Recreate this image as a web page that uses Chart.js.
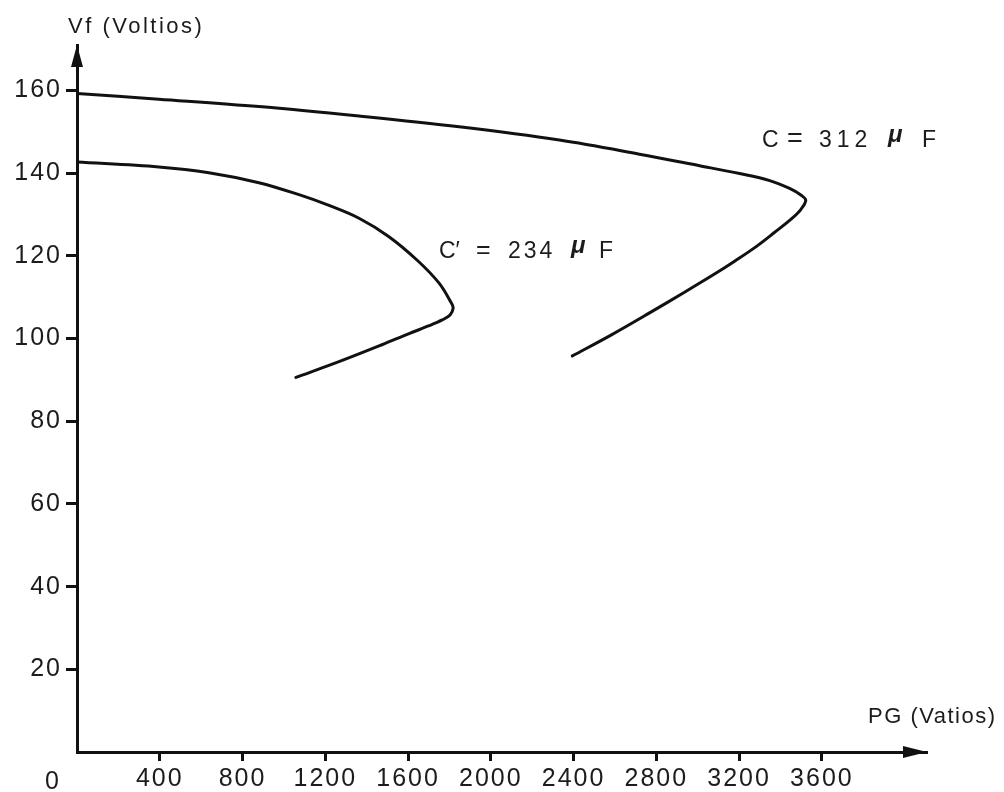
<!DOCTYPE html>
<html>
<head>
<meta charset="utf-8">
<title>Vf vs PG</title>
<script src="https://cdn.jsdelivr.net/npm/chart.js@4.4.1/dist/chart.umd.min.js"></script>
<style>
  html, body { margin: 0; padding: 0; background: #ffffff; }
  canvas { display: block; }
</style>
</head>
<body>
<canvas id="chart" width="1004" height="792"></canvas>
<script>
// Curve C = 312 µF: generated power (W) and field voltage (V)
const pgC312 = [0, 395, 879, 1363, 1847, 2331, 2718, 3009, 3202, 3348, 3444, 3502, 3522, 3498, 3454, 3372, 3284, 3178, 3091, 2936, 2767, 2583, 2394];
const vfC312 = [159.3, 157.9, 156.1, 153.8, 151.2, 148.0, 144.6, 141.8, 139.9, 138.2, 136.3, 134.6, 133.4, 131.2, 129.0, 125.7, 122.3, 118.7, 115.9, 111.2, 106.2, 100.9, 95.8];

// Curve C' = 234 µF
const pgC234 = [0, 395, 637, 879, 1073, 1218, 1363, 1506, 1643, 1750, 1808, 1818, 1803, 1765, 1702, 1605, 1474, 1266, 1058];
const vfC234 = [142.7, 141.5, 140.1, 137.7, 134.8, 132.2, 129.1, 124.7, 119.0, 113.4, 108.7, 107.4, 105.7, 104.5, 103.1, 101.2, 98.5, 94.4, 90.6];

// Tick labels on each axis
const pgTicks = [400, 800, 1200, 1600, 2000, 2400, 2800, 3200, 3600];
const vfTicks = [20, 40, 60, 80, 100, 120, 140, 160];

// Axis titles and origin label
const yTitle = 'Vf (Voltios)';
const xTitle = 'PG (Vatios)';
const originLabel = '0';

const toPoints = (xs, ys) => xs.map((x, i) => ({ x: x, y: ys[i] }));

const INK = '#111111';
const TEXT = '#1c1c1c';
const FONT = '"Liberation Sans", Arial, Helvetica, sans-serif';

// Draws the arrow heads, axis titles, origin label and curve labels
const decorations = {
  id: 'decorations',
  beforeDraw(chart) {
    chart.ctx.letterSpacing = '2px';
  },
  afterDraw(chart) {
    const ctx = chart.ctx;
    const area = chart.chartArea;
    ctx.save();
    ctx.fillStyle = INK;

    // arrow on the vertical axis
    ctx.beginPath();
    ctx.moveTo(area.left, area.top);
    ctx.lineTo(area.left - 6, area.top + 22);
    ctx.lineTo(area.left + 6, area.top + 22);
    ctx.closePath();
    ctx.fill();

    // arrow on the horizontal axis
    ctx.beginPath();
    ctx.moveTo(area.right, area.bottom);
    ctx.lineTo(area.right - 24, area.bottom - 6);
    ctx.lineTo(area.right - 24, area.bottom + 6);
    ctx.closePath();
    ctx.fill();

    ctx.fillStyle = TEXT;
    ctx.textBaseline = 'alphabetic';
    ctx.textAlign = 'left';

    // axis titles
    ctx.font = '22px ' + FONT;
    ctx.letterSpacing = '2.5px';
    ctx.fillText(yTitle, 68, 33);
    ctx.letterSpacing = '1.5px';
    ctx.fillText(xTitle, 868, 723);

    // origin
    ctx.font = '25px ' + FONT;
    ctx.letterSpacing = '0px';
    ctx.textAlign = 'center';
    ctx.fillText(originLabel, 52, 789);
    ctx.textAlign = 'left';

    // curve labels, drawn piece by piece to keep the wide spacing
    const label = (parts, baseline) => {
      parts.forEach(p => {
        ctx.letterSpacing = p.ls || '0px';
        if (p.mu) {
          ctx.font = 'italic bold 24px ' + FONT;
          ctx.fillText(p.t, p.x, baseline - 5);
        } else {
          ctx.font = (p.size || 23) + 'px ' + FONT;
          ctx.fillText(p.t, p.x, baseline);
        }
      });
    };
    label([
      { t: 'C', x: 762 },
      { t: '=', x: 787, size: 27 },
      { t: '312', x: 819, ls: '5px' },
      { t: 'μ', x: 888, mu: true },
      { t: 'F', x: 922 }
    ], 147);
    label([
      { t: 'C′', x: 439 },
      { t: '=', x: 476, size: 25 },
      { t: '234', x: 508, ls: '3px' },
      { t: 'μ', x: 571, mu: true },
      { t: 'F', x: 599 }
    ], 258);

    ctx.restore();
  }
};

const lineStyle = {
  showLine: true,
  borderColor: INK,
  borderWidth: 3,
  pointRadius: 0,
  pointHoverRadius: 0,
  fill: false,
  tension: 0.35,
  borderCapStyle: 'round',
  borderJoinStyle: 'round'
};

const plainNumber = v => String(v);

new Chart(document.getElementById('chart'), {
  type: 'scatter',
  data: {
    datasets: [
      Object.assign({ label: 'C = 312 μF', data: toPoints(pgC312, vfC312) }, lineStyle),
      Object.assign({ label: "C' = 234 μF", data: toPoints(pgC234, vfC234) }, lineStyle)
    ]
  },
  options: {
    responsive: false,
    devicePixelRatio: 1,
    animation: false,
    events: [],
    layout: { padding: { left: 0, top: 45, right: 77, bottom: 0 } },
    plugins: {
      legend: { display: false },
      tooltip: { enabled: false },
      title: { display: false }
    },
    scales: {
      x: {
        type: 'linear',
        min: 0,
        max: 4108,
        afterBuildTicks: s => { s.ticks = pgTicks.map(v => ({ value: v })); },
        afterFit: s => { s.height = 40; },
        border: { display: true, color: INK, width: 3 },
        grid: {
          display: true,
          drawOnChartArea: false,
          drawTicks: true,
          tickLength: 9,
          tickWidth: 3,
          tickColor: INK,
          color: INK
        },
        ticks: {
          autoSkip: false,
          maxRotation: 0,
          padding: 3,
          color: TEXT,
          font: { family: FONT, size: 25 },
          callback: plainNumber
        }
      },
      y: {
        type: 'linear',
        min: 0,
        max: 171,
        afterBuildTicks: s => { s.ticks = vfTicks.map(v => ({ value: v })); },
        afterFit: s => { s.width = 77; },
        border: { display: true, color: INK, width: 3 },
        grid: {
          display: true,
          drawOnChartArea: false,
          drawTicks: true,
          tickLength: 11,
          tickWidth: 3,
          tickColor: INK,
          color: INK
        },
        ticks: {
          autoSkip: false,
          padding: 4,
          color: TEXT,
          font: { family: FONT, size: 25 },
          callback: plainNumber
        }
      }
    }
  },
  plugins: [decorations]
});
</script>
</body>
</html>
